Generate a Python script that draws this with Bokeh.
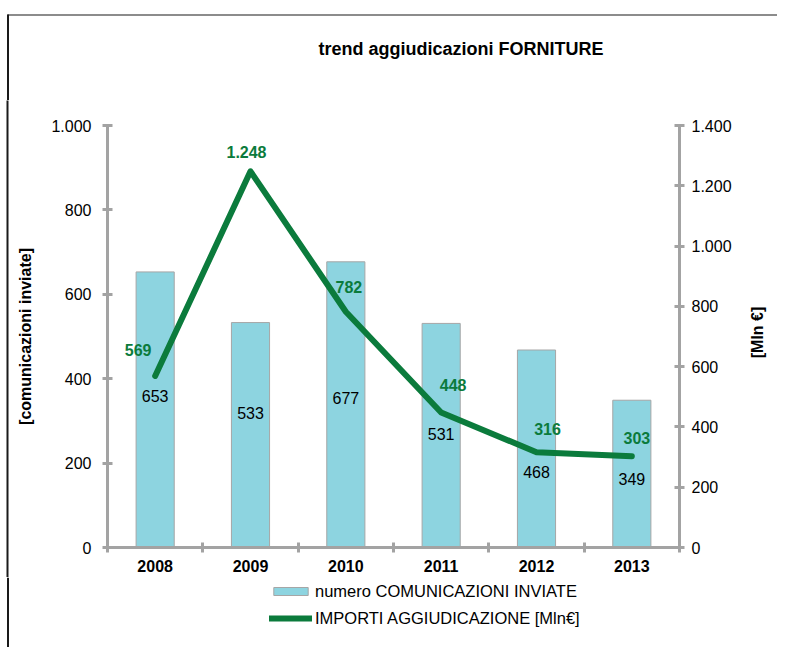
import math
from bokeh.plotting import figure
from bokeh.layouts import column, row
from bokeh.models import Range1d, LinearAxis, FixedTicker, Legend, LegendItem, ColumnDataSource
from bokeh.core.properties import value
from bokeh.embed import file_html
from bokeh.resources import INLINE

# ---- data ----
years = ["2008", "2009", "2010", "2011", "2012", "2013"]
comunicazioni = [653, 533, 677, 531, 468, 349]
importi = [569, 1248, 782, 448, 316, 303]
importi_text = ["569", "1.248", "782", "448", "316", "303"]
left_ticks = [0, 200, 400, 600, 800, 1000]
left_tick_labels = ["0", "200", "400", "600", "800", "1.000"]
right_ticks = [0, 200, 400, 600, 800, 1000, 1200, 1400]
right_tick_labels = ["0", "200", "400", "600", "800", "1.000", "1.200", "1.400"]
title_text = "trend aggiudicazioni FORNITURE"
left_axis_title = "[comunicazioni inviate]"
right_axis_title = "[Mln €]"
series_names = ["numero COMUNICAZIONI INVIATE", "IMPORTI AGGIUDICAZIONE [Mln€]"]

# ---- label placement (layout only) ----
bar_label_y = [360, 318, 355, 270, 180, 163]
line_label_dx = [-17, -4, 3, 12, 11, 5]
line_label_dy = [-26, -19, -25, -27, -23, -18]

FONT = "Liberation Sans"
BAR_FILL = "#8DD4E0"
BAR_LINE = "#A6A6A6"
GREEN = "#0B7B3C"
AXIS = "#A3A3A3"
FRAME_TOP = "#8C8C8C"
FRAME_LEFT = "#1A1A1A"
W = 777

xs = [i + 0.5 for i in range(len(years))]
src = ColumnDataSource(dict(
    x=xs, com=comunicazioni, com_text=[str(v) for v in comunicazioni],
    lab_y=bar_label_y, imp=importi, imp_text=importi_text,
    dx=line_label_dx, dy=line_label_dy,
))

def blank(w, h):
    f = figure(width=w, height=h, x_range=Range1d(0, w), y_range=Range1d(0, h),
               output_backend="svg", toolbar_location=None, min_border=0,
               x_axis_location=None, y_axis_location=None)
    f.grid.visible = False
    f.outline_line_color = None
    f.frame_align = False
    return f

# ---- title strip ----
TH = 100
pt = blank(W, TH)
pt.text(x=[318], y=[TH - 48], text=[title_text], text_align="left", text_baseline="middle",
        text_font=value(FONT), text_font_size="18px", text_font_style="bold", text_color="#000000")
pt.line(x=[7, W], y=[TH - 14.5, TH - 14.5], line_color=FRAME_TOP, line_width=2)
pt.line(x=[7.5, 7.5], y=[0, TH - 14], line_color=FRAME_LEFT, line_width=2)

# ---- main chart ----
MH = 477
LW = 9    # left edge strip width
RW = 38   # right strip width (axis title)
p = figure(frame_width=572, frame_height=422, x_range=Range1d(0, len(years)), y_range=Range1d(0, 1000),
           output_backend="svg", toolbar_location=None,
           min_border_left=107 - LW, min_border_right=W - 107 - 572 - RW, min_border_top=25, min_border_bottom=30)
p.extra_y_ranges = {"imp": Range1d(0, 1400)}
p.grid.visible = False
p.outline_line_color = None
p.frame_align = False

bars = p.vbar(x="x", top="com", width=0.4, source=src, fill_color=BAR_FILL, line_color=BAR_LINE, line_width=1)
line = p.line(x="x", y="imp", source=src, y_range_name="imp", line_color=GREEN, line_width=6,
              line_cap="round", line_join="round")

p.text(x="x", y="lab_y", text="com_text", source=src, text_align="center", text_baseline="middle",
       text_font=value(FONT), text_font_size="16px", text_color="#000000")
p.text(x="x", y="imp", text="imp_text", source=src, y_range_name="imp", x_offset="dx", y_offset="dy",
       text_align="center", text_baseline="middle", text_font=value(FONT), text_font_size="16px",
       text_font_style="bold", text_color=GREEN)

def style_axis(ax):
    ax.axis_line_color = AXIS
    ax.axis_line_width = 3
    ax.major_tick_line_color = AXIS
    ax.major_tick_line_width = 3
    ax.major_tick_in = 5
    ax.major_tick_out = 5
    ax.minor_tick_line_color = None
    ax.major_label_text_font = FONT
    ax.major_label_text_font_size = "16px"
    ax.major_label_text_color = "#000000"
    ax.axis_label_text_font = FONT
    ax.axis_label_text_font_size = "16px"
    ax.axis_label_text_font_style = "bold"
    ax.axis_label_text_color = "#000000"

ly = p.yaxis[0]
style_axis(ly)
ly.ticker = FixedTicker(ticks=left_ticks)
ly.major_label_overrides = {t: s for t, s in zip(left_ticks, left_tick_labels)}
ly.major_label_standoff = 11
ly.axis_label = left_axis_title
ly.axis_label_standoff = 14

ry = LinearAxis(y_range_name="imp")
style_axis(ry)
ry.ticker = FixedTicker(ticks=right_ticks)
ry.major_label_overrides = {t: s for t, s in zip(right_ticks, right_tick_labels)}
ry.major_label_standoff = 7
p.add_layout(ry, "right")

xa = p.xaxis[0]
style_axis(xa)
xa.ticker = FixedTicker(ticks=xs, minor_ticks=list(range(len(years) + 1)))
xa.major_label_overrides = {x: y for x, y in zip(xs, years)}
xa.major_tick_line_color = None
xa.major_tick_in = 0
xa.major_tick_out = 0
xa.minor_tick_line_color = AXIS
xa.minor_tick_line_width = 3
xa.minor_tick_in = 5
xa.minor_tick_out = 5
xa.major_label_text_font_style = "bold"
xa.major_label_standoff = 7

# left frame edge beside the chart: a 2px dark frame region inside a white border
pb = figure(width=LW, height=MH, x_range=Range1d(0, 1), y_range=Range1d(0, 1),
            output_backend="svg", toolbar_location=None,
            min_border_left=6, min_border_right=LW - 8, min_border_top=0, min_border_bottom=0,
            x_axis_location=None, y_axis_location=None)
pb.grid.visible = False
pb.outline_line_color = None
pb.frame_align = False
pb.background_fill_color = FRAME_LEFT
pb.border_fill_color = "white"

# right strip with the right axis title (reads bottom-to-top)
pr = blank(RW, MH)
pr.text(x=[757 - (W - RW)], y=[MH - (332 - TH)], text=[right_axis_title], angle=math.pi / 2,
        text_align="center", text_baseline="middle", text_font=value(FONT), text_font_size="16px",
        text_font_style="bold", text_color="#000000")

# ---- legend strip ----
LH = 70
pl = blank(W, LH)
pl.quad(left=[6.5], right=[8.5], bottom=[0], top=[LH], fill_color=FRAME_LEFT, line_color=None)
lb = pl.vbar(x=[-100], top=[-100], width=1, fill_color=BAR_FILL, line_color=BAR_LINE, line_width=1)
ll = pl.line(x=[-100, -90], y=[-100, -100], line_color=GREEN, line_width=6, line_cap="round")
legend = Legend(items=[LegendItem(label=series_names[0], renderers=[lb]),
                       LegendItem(label=series_names[1], renderers=[ll])],
                orientation="vertical", location=(269, 19), border_line_color=None,
                background_fill_alpha=0, label_text_font=FONT, label_text_font_size="16.5px",
                label_text_color="#000000",
                glyph_width=43, glyph_height=10, label_height=20, spacing=7, label_standoff=3,
                padding=0, margin=0)
pl.add_layout(legend, "center")

layout = column(pt, row(pb, p, pr, spacing=0), pl, spacing=0)
open("out.html", "w").write(file_html(layout, INLINE))
